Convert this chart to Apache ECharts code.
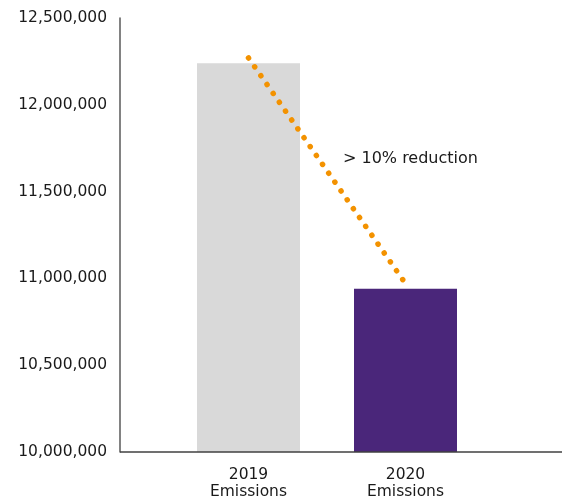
<!DOCTYPE html>
<html><head><meta charset="utf-8">
<script src="https://cdn.jsdelivr.net/npm/echarts@6/dist/echarts.min.js"></script>
<style>html,body{margin:0;padding:0;background:#fff}#c{width:564px;height:502px}</style>
</head><body><div id="c"></div>
<script>
const categories = ['2019\nEmissions', '2020\nEmissions'];
const emissions = [12240000, 10940000];
const trendLine = [12270000, 10970000];
const barColors = ['#d9d9d9', '#4a267a'];
const yMin = 10000000, yMax = 12500000, yStep = 500000;
const annotation = '> 10% reduction';

const FONT = 'DejaVu Sans';
const chart = echarts.init(document.getElementById('c'), null, {renderer: 'canvas'});
chart.setOption({
  animation: false,
  grid: {left: 170, right: 80, top: 18, bottom: 50},
  xAxis: {
    type: 'category', data: categories,
    axisLine: {show: false}, axisTick: {show: false},
    axisLabel: {color: '#1a1a1a', fontFamily: FONT, fontSize: 15.5, lineHeight: 17, margin: 14}
  },
  yAxis: {
    type: 'value', min: yMin, max: yMax, interval: yStep, offset: 50,
    axisLine: {show: true, lineStyle: {color: '#595959', width: 1.5}},
    axisTick: {show: false}, splitLine: {show: false},
    axisLabel: {color: '#1a1a1a', fontFamily: FONT, fontSize: 15.5, margin: 13,
      formatter: v => v.toLocaleString('en-US')}
  },
  series: [
    {type: 'bar', barWidth: 103,
     data: emissions.map((v, i) => ({value: v, itemStyle: {color: barColors[i]}}))},
    {type: 'line', data: trendLine, symbol: 'none', z: 5,
     lineStyle: {color: '#f39200', width: 5.5, type: [0.1, 10.7], cap: 'round'}}
  ],
  graphic: [
    {type: 'line', z: 10, shape: {x1: 120, y1: 452, x2: 562, y2: 452},
     style: {stroke: '#404040', lineWidth: 1.5}},
    {type: 'text', left: 343, top: 151,
     style: {text: annotation, fill: '#1a1a1a', font: '16px ' + FONT}}
  ]
});
</script></body></html>
